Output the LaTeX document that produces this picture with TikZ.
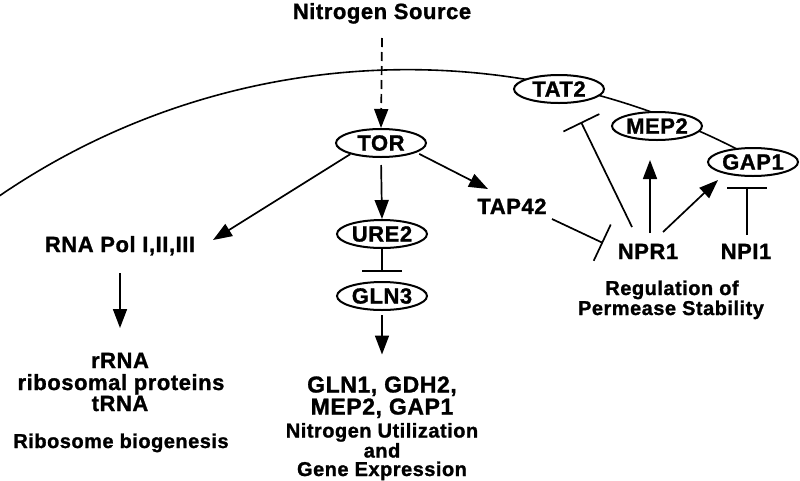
\documentclass[tikz,border=0pt]{standalone}
\usepackage{fontspec}
\setmainfont{Liberation Sans}[LetterSpace=2.5, BoldFeatures={FakeBold=1.2}]
\usetikzlibrary{arrows.meta,shapes.geometric,calc}
\begin{document}
\begin{tikzpicture}[x=1pt,y=-1pt,
  big/.style={font=\bfseries\fontsize{22}{24}\selectfont, inner sep=0pt, anchor=base},
  bigger/.style={font=\bfseries\fontsize{23}{25}\selectfont, inner sep=0pt, anchor=base},
  small/.style={font=\bfseries\fontsize{20}{22}\selectfont, inner sep=0pt, anchor=base},
  prot/.style={ellipse, draw, line width=2pt, fill=white, minimum width=90pt, minimum height=28pt, inner sep=0pt, font=\bfseries\fontsize{22}{24}\selectfont},
  arr/.style={line width=1.7pt, -{Triangle[length=19pt,width=14pt]}},
  inh/.style={line width=1.7pt, -{Bar[width=40pt]}},
  membrane/.style={line width=1.6pt}
]
\useasboundingbox (0,0) rectangle (800,480);

% membrane arc
\draw[membrane] ([shift={(-124.4:722.7)}]407.5,792.3) arc[start angle=-124.4, end angle=-61.3, radius=722.7];

% texts
\node[big] (nsrc) at (382,19) {Nitrogen Source};
\node[big] (tap42) at (512,214) {TAP42};
\node[big] (npr1) at (648,259) {NPR1};
\node[big] (npi1) at (746,259) {NPI1};
\node[small] (reg1) at (672,295) {Regulation of};
\node[small] (reg2) at (671,315) {Permease Stability};
\node[big] (rnapol) at (120,252) {RNA Pol I,II,III};
\node[big] (rrna) at (120,368) {rRNA};
\node[big] (ribprot) at (121,390) {ribosomal proteins};
\node[big] (trna) at (120,411) {tRNA};
\node[small] (ribbio) at (121,448) {Ribosome biogenesis};
\node[bigger] (gln1) at (382,392.5) {GLN1, GDH2,};
\node[bigger] (mep2gap1) at (382,414.5) {MEP2, GAP1};
\node[small] (nutil) at (382,437.5) {Nitrogen Utilization};
\node[small] (and) at (382,457.5) {and};
\node[small] (genex) at (382,476) {Gene Expression};

% proteins
\node[prot] (tor) at (381,143) {TOR};
\node[prot] (ure2) at (382,234) {URE2};
\node[prot] (gln3) at (382,296) {GLN3};
\node[prot] (tat2) at (559,89) {TAT2};
\node[prot] (mep2) at (657,126) {MEP2};
\node[prot] (gap1) at (753,162) {GAP1};

% connectors
\draw[arr, dash pattern=on 9pt off 5pt] ($(nsrc.base)+(0,19)$) -- (tor.north);
\draw[arr] (tor.200) -- ($(rnapol.base)+(93,-12)$);
\draw[arr, shorten <=7pt] (tor.south) -- (ure2.north);
\draw[inh, shorten >=9pt] (ure2.south) -- (gln3.north);
\draw[arr, shorten <=4pt] (gln3.south) -- ($(gln1.base)+(0,-38)$);
\draw[arr] ($(rnapol.base)+(0,21)$) -- ($(rrna.base)+(0,-40)$);
\draw[arr, shorten <=3pt] (tor.-15) -- ($(tap42.base)+(-24,-25)$);
\draw[inh] ($(tap42.base)+(40,5)$) -- ($(npr1.base)+(-45,-16)$);
\draw[inh] ($(npr1.base)+(-16,-32)$) -- ($(tat2)+(22,33)$);
\draw[arr] ($(npr1.base)+(2,-26)$) -- ($(mep2.south)+(-7,19)$);
\draw[arr] ($(npr1.base)+(15,-27)$) -- ($(npr1.base)+(70,-79)$);
\draw[inh] ($(npi1.base)+(1,-24)$) -- ($(gap1.south)+(-6,10)$);
\end{tikzpicture}
\end{document}
